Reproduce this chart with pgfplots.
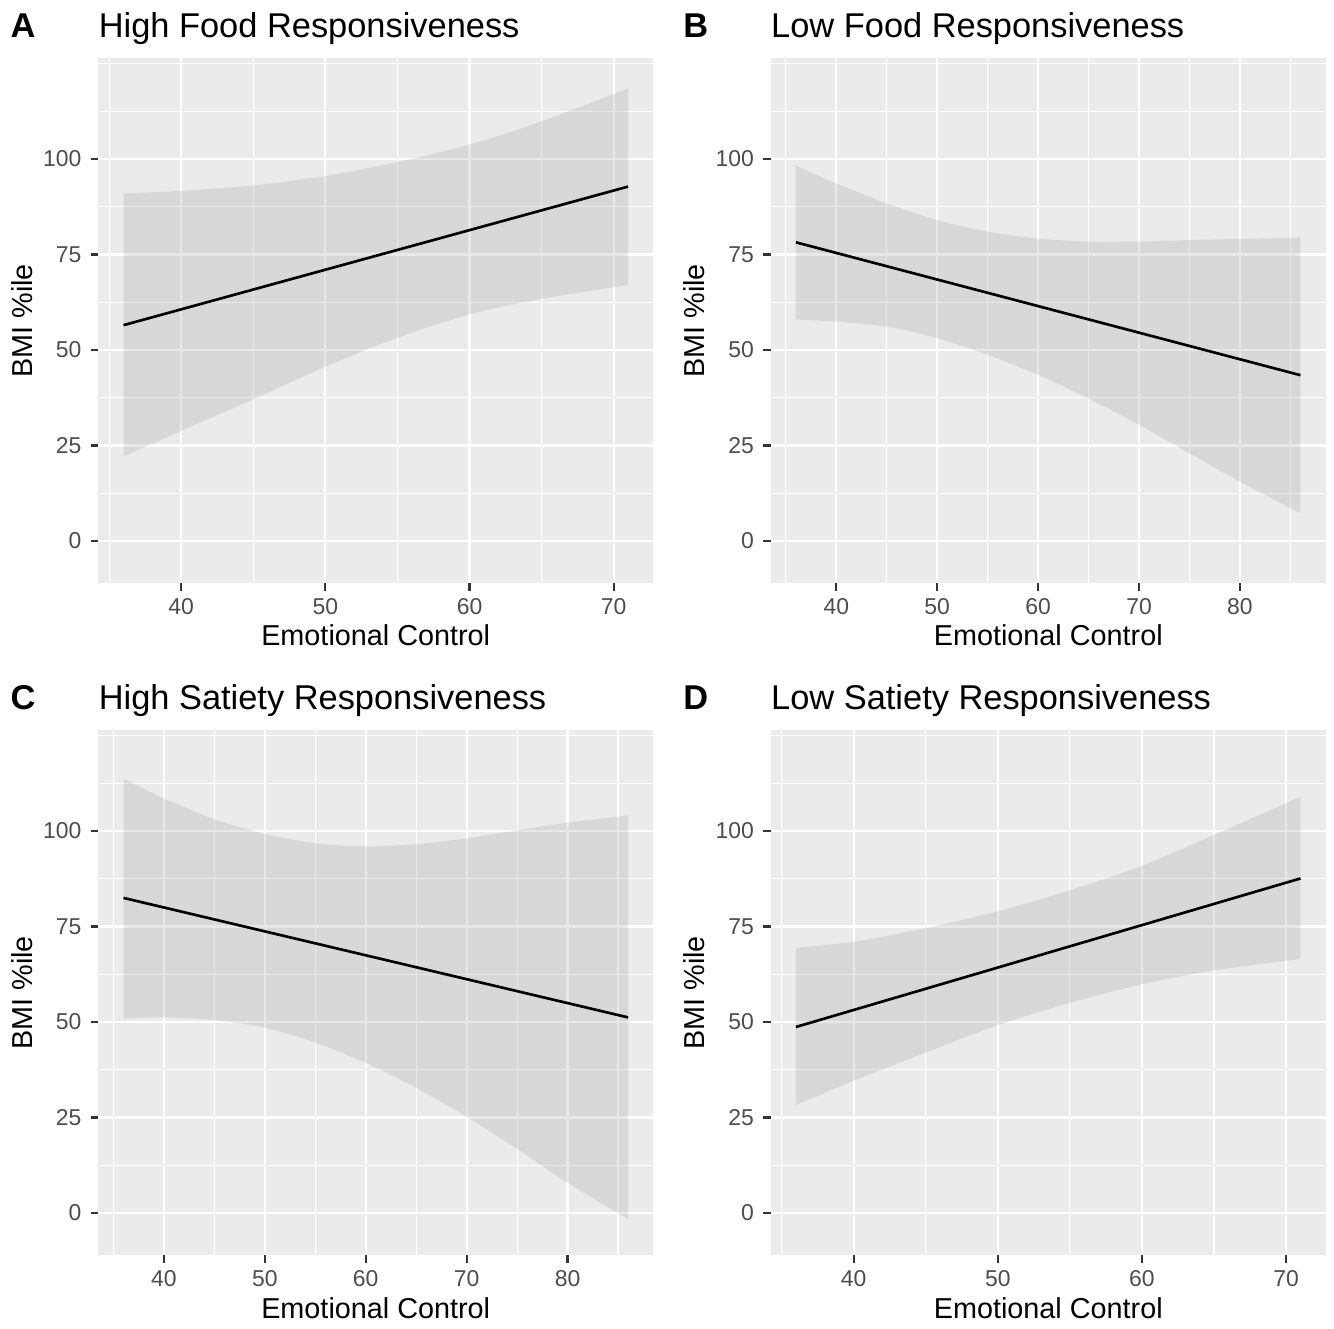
\documentclass[border=0pt]{standalone}
\usepackage{fontspec}
\setmainfont{Liberation Sans}
\usepackage{pgfplots}
\pgfplotsset{compat=1.18}
\usepgfplotslibrary{fillbetween}
\definecolor{panelbg}{HTML}{EBEBEB}
\definecolor{tickc}{HTML}{333333}
\definecolor{ticklab}{HTML}{4D4D4D}
\definecolor{ribbon}{HTML}{999999}
\pgfplotsset{gg/.style={
  width=208.13pt, height=196.88pt, scale only axis,
  anchor=south west,
  axis background/.style={fill=panelbg},
  axis x line*=bottom, axis y line*=left,
  axis line style={draw=none},
  ymin=-11.1, ymax=126.4,
  ytick={0,25,50,75,100},
  minor ytick={12.5,37.5,62.5,87.5,112.5,125},
  grid=both,
  major grid style={white, line width=0.8pt},
  minor grid style={white, line width=0.4pt},
  tick align=outside,
  major tick length=2.8pt, minor tick length=0pt,
  tick style={tickc, line width=0.8pt},
  ticklabel style={font=\fontsize{8.6}{10}\selectfont, text=ticklab},
  xticklabel style={yshift=0.8pt},
  /pgf/number format/assume math mode=true,
  clip=true,
},
gA/.style={xmin=34.25, xmax=72.75, xtick={40,50,60,70}, minor xtick={35,45,55,65}},
gB/.style={xmin=33.5, xmax=88.5, xtick={40,50,60,70,80}, minor xtick={35,45,55,65,75,85}},
rib/.style={draw=none, fill=ribbon, fill opacity=0.22},
}
\newcommand{\ttl}{\fontsize{12.9}{15}\selectfont}
\newcommand{\lab}{\fontsize{10.8}{13}\selectfont}
\begin{document}
\begin{tikzpicture}
\path (0,0) rectangle (500.25pt,498pt);
% Panel A
\begin{axis}[gg, gA, at={(36.86pt,279.26pt)}]
\addplot[name path=up, draw=none, smooth] coordinates {(36,91.0) (40,91.7) (45,93.1) (50,95.6) (55,99.2) (60,103.8) (65,109.9) (71,118.5)};
\addplot[name path=lo, draw=none, smooth] coordinates {(36,22.1) (40,28.8) (45,37.1) (50,45.6) (55,53.2) (60,59.3) (65,63.4) (71,67.0)};
\addplot[rib] fill between[of=up and lo];
\addplot[black, line width=1pt] coordinates {(36,56.5) (71,92.8)};
\end{axis}
% Panel B
\begin{axis}[gg, gB, at={(289.01pt,279.26pt)}]
\addplot[name path=up, draw=none, smooth] coordinates {(36,98.3) (40,93.6) (45,88.4) (50,84.0) (55,81.0) (60,79.2) (65,78.4) (70,78.4) (75,78.8) (80,79.1) (86,79.4)};
\addplot[name path=lo, draw=none, smooth] coordinates {(36,58.0) (40,57.4) (45,56.1) (50,53.1) (55,48.7) (60,43.5) (65,37.3) (70,30.4) (75,23.0) (80,15.5) (86,7.2)};
\addplot[rib] fill between[of=up and lo];
\addplot[black, line width=1pt] coordinates {(36,78.2) (86,43.4)};
\end{axis}
% Panel C
\begin{axis}[gg, gB, at={(36.86pt,27.26pt)}]
\addplot[name path=up, draw=none, smooth] coordinates {(36,113.7) (40,108.6) (45,103.1) (50,99.3) (55,96.8) (60,96.0) (65,96.6) (70,98.1) (75,100.2) (80,102.2) (86,104.1)};
\addplot[name path=lo, draw=none, smooth] coordinates {(36,50.9) (40,51.2) (45,50.5) (50,48.5) (55,44.6) (60,39.3) (65,32.7) (70,25.2) (75,16.8) (80,7.9) (86,-1.6)};
\addplot[rib] fill between[of=up and lo];
\addplot[black, line width=1pt] coordinates {(36,82.5) (86,51.2)};
\end{axis}
% Panel D
\begin{axis}[gg, gA, at={(289.01pt,27.26pt)}]
\addplot[name path=up, draw=none, smooth] coordinates {(36,69.5) (40,71.0) (45,74.6) (50,79.0) (55,84.5) (60,90.9) (65,99.0) (71,109.0)};
\addplot[name path=lo, draw=none, smooth] coordinates {(36,28.2) (40,34.6) (45,42.0) (50,49.2) (55,55.0) (60,59.9) (65,63.5) (71,66.5)};
\addplot[rib] fill between[of=up and lo];
\addplot[black, line width=1pt] coordinates {(36,48.7) (71,87.6)};
\end{axis}
% Titles and letters
\node[anchor=base west, inner sep=0pt] at (3.75pt,484.1pt) {\ttl\bfseries A};
\node[anchor=base west, inner sep=0pt] at (36.86pt,484.1pt) {\ttl High Food Responsiveness};
\node[anchor=base west, inner sep=0pt] at (256.1pt,484.1pt) {\ttl\bfseries B};
\node[anchor=base west, inner sep=0pt] at (289.01pt,484.1pt) {\ttl Low Food Responsiveness};
\node[anchor=base west, inner sep=0pt] at (3.75pt,232.1pt) {\ttl\bfseries C};
\node[anchor=base west, inner sep=0pt] at (36.86pt,232.1pt) {\ttl High Satiety Responsiveness};
\node[anchor=base west, inner sep=0pt] at (256.1pt,232.1pt) {\ttl\bfseries D};
\node[anchor=base west, inner sep=0pt] at (289.01pt,232.1pt) {\ttl Low Satiety Responsiveness};
% x labels
\node[anchor=base, inner sep=0pt] at (140.9pt,255.75pt) {\lab Emotional Control};
\node[anchor=base, inner sep=0pt] at (393.1pt,255.75pt) {\lab Emotional Control};
\node[anchor=base, inner sep=0pt] at (140.9pt,3.75pt) {\lab Emotional Control};
\node[anchor=base, inner sep=0pt] at (393.1pt,3.75pt) {\lab Emotional Control};
% y labels
\node[anchor=base, rotate=90, inner sep=0pt] at (12.11pt,377.7pt) {\lab BMI \%ile};
\node[anchor=base, rotate=90, inner sep=0pt] at (264.26pt,377.7pt) {\lab BMI \%ile};
\node[anchor=base, rotate=90, inner sep=0pt] at (12.11pt,125.7pt) {\lab BMI \%ile};
\node[anchor=base, rotate=90, inner sep=0pt] at (264.26pt,125.7pt) {\lab BMI \%ile};
\end{tikzpicture}
\end{document}
